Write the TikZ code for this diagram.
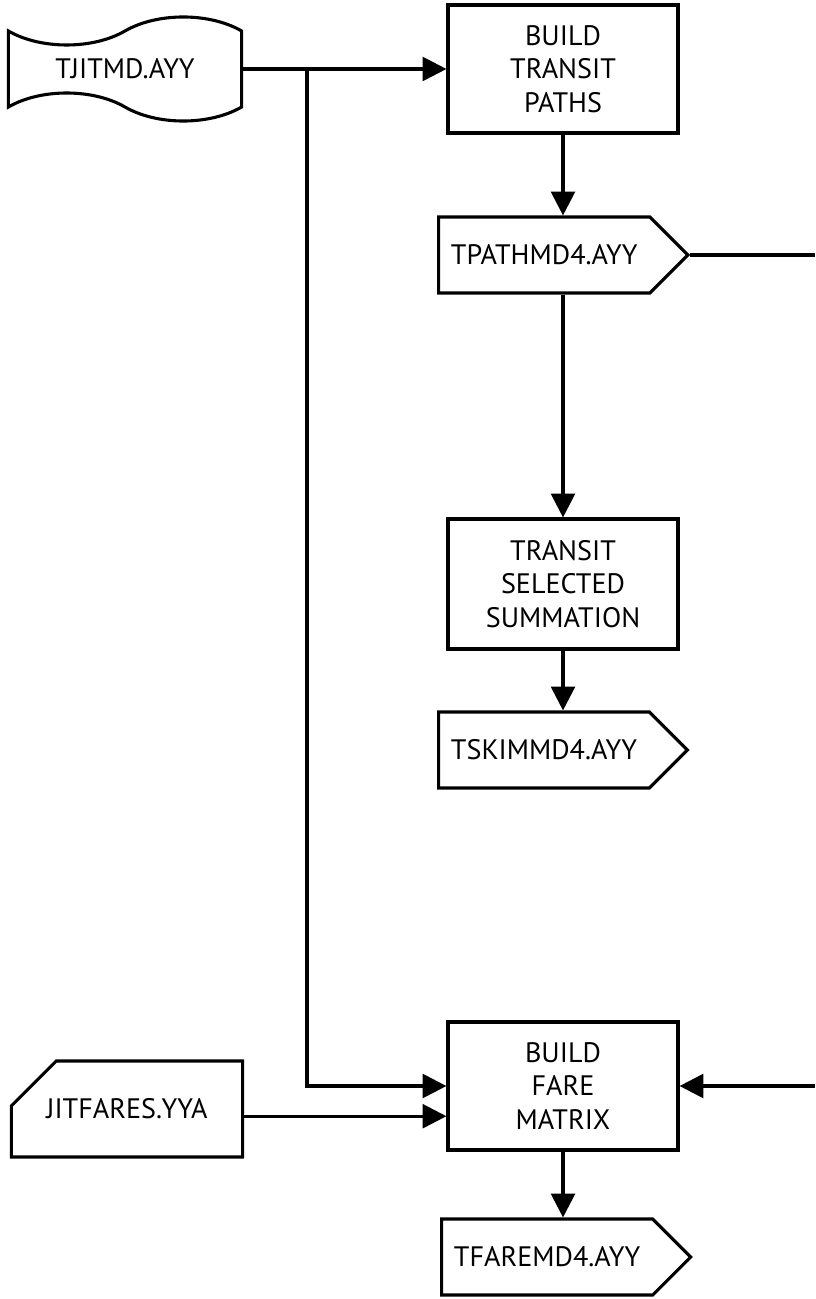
\documentclass[tikz,border=0pt]{standalone}
\usepackage{fontspec}
\setmainfont{PT Sans}
\usepackage{tikz}
\usetikzlibrary{arrows.meta, positioning, shapes.symbols, shapes.misc}

\begin{document}
\begin{tikzpicture}[x=0.025cm, y=-0.025cm, line width=2.2pt,
    font=\fontsize{20}{24}\selectfont,
    procbox/.style={draw, rectangle, minimum width=5.75cm, minimum height=3.2cm, align=center},
    outfile/.style={draw, signal, signal to=east, signal pointer angle=90,
                    minimum width=4.45cm, minimum height=1.9cm, anchor=west, inner xsep=0.31cm},
    arr/.style={-{Triangle[length=17pt, width=17pt]}}]
  \useasboundingbox (0,0) rectangle (815,1299);

  % input files
  \node[draw, tape, tape bend top=in and out, tape bend bottom=out and in, tape bend height=0.7cm,
        minimum width=5.83cm, minimum height=2.6cm] (tjit) at (125,69) {TJITMD.AYY};
  \node[draw, chamfered rectangle, chamfered rectangle corners=north west,
        chamfered rectangle xsep=0.95cm, chamfered rectangle ysep=0.75cm,
        minimum width=5.78cm, minimum height=2.4cm] (jitfares) at (127,1109) {JITFARES.YYA};

  % programs and their outputs
  \node[procbox] (buildpaths) at (563,69) {BUILD\\TRANSIT\\PATHS};
  \node[outfile] (tpath) at (437,255) {TPATHMD4.AYY};
  \node[procbox, minimum height=3.25cm] (selsum) at (563,584) {TRANSIT\\SELECTED\\SUMMATION};
  \node[outfile] (tskim) at (437,750) {TSKIMMD4.AYY};
  \node[procbox] (buildfare) at (563,1086) {BUILD\\FARE\\MATRIX};
  \node[outfile] (tfare) at (440,1257) {TFAREMD4.AYY};

  \coordinate (split) at (307,69);
  \coordinate (offA) at (815,255);
  \coordinate (offB) at (815,1086);

  \draw[arr] (tjit.east) -- (buildpaths.west);
  \draw[arr] (split) |- (buildfare.west);
  \draw[arr] ([yshift=-0.18cm]jitfares.east) -- ([yshift=-0.18cm]jitfares.east -| buildfare.west);
  \draw[arr] (buildpaths.south) -- (buildpaths.south |- tpath.north);
  \draw (tpath.east) -- (offA);
  \draw[arr] (buildpaths.south |- tpath.south) -- (selsum.north);
  \draw[arr] (selsum.south) -- (selsum.south |- tskim.north);
  \draw[arr] (offB) -- (buildfare.east);
  \draw[arr] (buildfare.south) -- (buildfare.south |- tfare.north);
\end{tikzpicture}
\end{document}
